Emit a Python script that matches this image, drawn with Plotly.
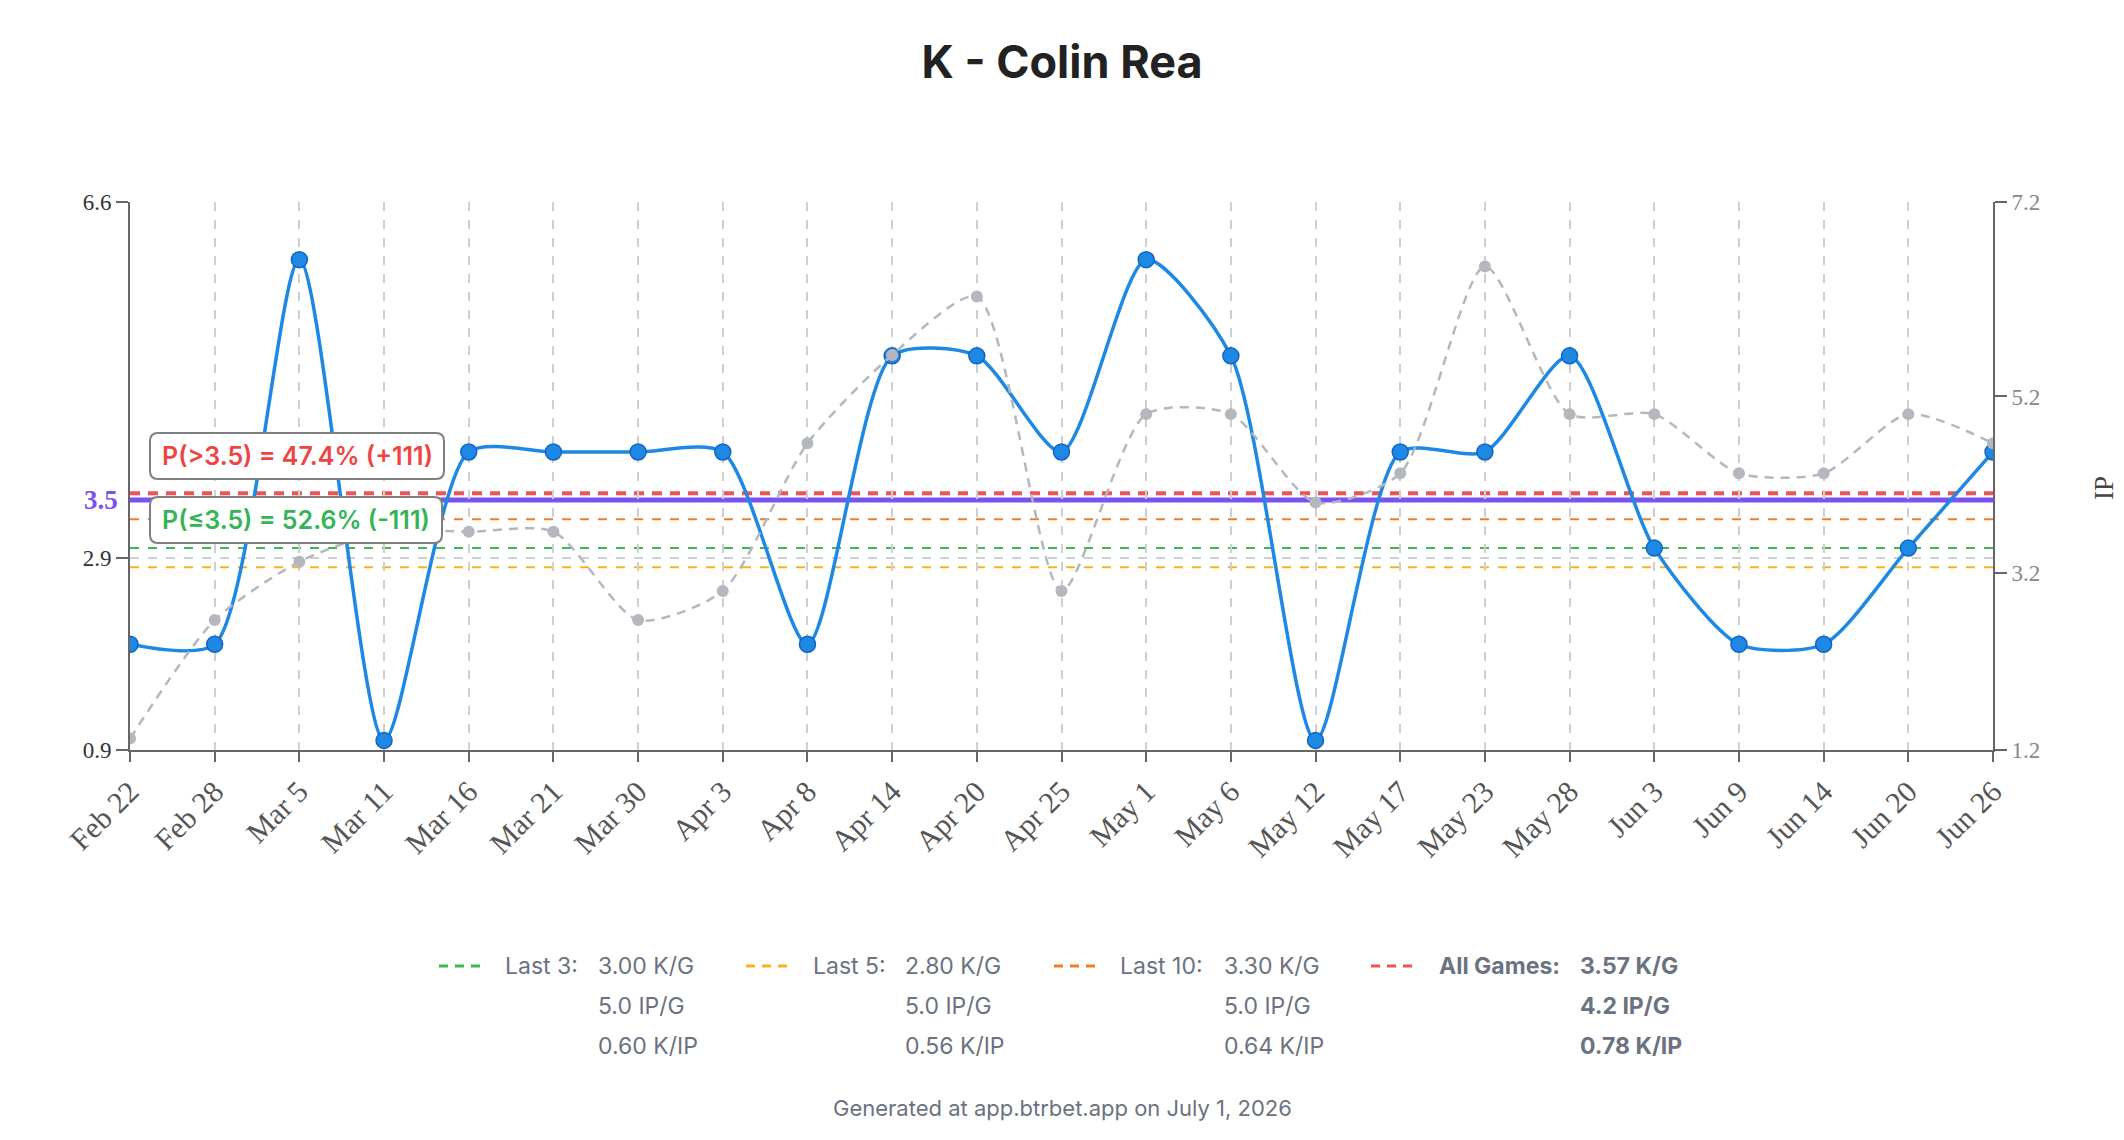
import plotly.graph_objects as go

# ---------------- data ----------------
dates = ["Feb 22", "Feb 28", "Mar 5", "Mar 11", "Mar 16", "Mar 21", "Mar 30", "Apr 3",
         "Apr 8", "Apr 14", "Apr 20", "Apr 25", "May 1", "May 6", "May 12", "May 17",
         "May 23", "May 28", "Jun 3", "Jun 9", "Jun 14", "Jun 20", "Jun 26"]
strikeouts = [2, 2, 6, 1, 4, 4, 4, 4, 2, 5, 5, 4, 6, 5, 1, 4, 4, 5, 3, 2, 2, 3, 4]
innings = [1.33, 2.67, 3.33, 3.67, 3.67, 3.67, 2.67, 3.0, 4.67, 5.67, 6.33, 3.0,
           5.0, 5.0, 4.0, 4.33, 6.67, 5.0, 5.0, 4.33, 4.33, 5.0, 4.67]

prop_line = 3.5
prob_over_text = "P(>3.5) = 47.4% (+111)"
prob_under_text = "P(≤3.5) = 52.6% (-111)"

avg_labels = ["Last 3:", "Last 5:", "Last 10:", "All Games:"]
avg_k = [3.00, 2.80, 3.30, 3.57]
avg_ip = [5.0, 5.0, 5.0, 4.2]
avg_kip = [0.60, 0.56, 0.64, 0.78]
avg_colors = ["#3cb94f", "#f9b21b", "#f47d22", "#f05252"]

k_ticks = [0.9, 2.9, 6.6]
ip_ticks = [1.2, 3.2, 5.2, 7.4]
ip_ticktext = ["1.2", "3.2", "5.2", "7.2"]

# ---------------- layout helpers ----------------
W, H = 2124, 1140
ML, MR, MT, MB = 130, 131, 202, 390
PW, PH = W - ML - MR, H - MT - MB


def px_x(px):
    return (px - ML) / PW


def px_y(py):
    return (H - MB - py) / PH


def rrect(x0, y0, x1, y1, r):
    pts = [
        ("M", [(x0 + r, y0)]), ("L", [(x1 - r, y0)]), ("Q", [(x1, y0), (x1, y0 + r)]),
        ("L", [(x1, y1 - r)]), ("Q", [(x1, y1), (x1 - r, y1)]), ("L", [(x0 + r, y1)]),
        ("Q", [(x0, y1), (x0, y1 - r)]), ("L", [(x0, y0 + r)]), ("Q", [(x0, y0), (x0 + r, y0)]),
    ]
    s = ""
    for cmd, ps in pts:
        s += cmd + " " + " ".join(f"{px_x(a):.5f},{px_y(b):.5f}" for a, b in ps) + " "
    return s + "Z"


SERIF = "Liberation Serif, Times New Roman, serif"
SANS = "Inter, Roboto, sans-serif"
GRAY_TXT = "#6b7280"

fig = go.Figure()

fig.add_trace(go.Scatter(
    x=dates, y=strikeouts, mode="lines+markers", yaxis="y",
    line=dict(color="#1e88e5", width=3.5, shape="spline", smoothing=0.7),
    marker=dict(size=16, color="#1e88e5", line=dict(color="#1565c0", width=1.5)),
    showlegend=False, hoverinfo="x+y",
))
fig.add_trace(go.Scatter(
    x=dates, y=innings, mode="lines+markers", yaxis="y2",
    line=dict(color="#b4b8be", width=2.5, dash="9px,7px", shape="spline", smoothing=0.7),
    marker=dict(size=12, color="#b4b8be"),
    showlegend=False, hoverinfo="x+y",
))

shapes = []
# average lines
for val, col, w, dash in [(avg_k[0], avg_colors[0], 2, "9px,9px"),
                          (avg_k[1], avg_colors[1], 2, "9px,9px"),
                          (avg_k[2], avg_colors[2], 2, "9px,9px"),
                          (avg_k[3], avg_colors[3], 4, "10px,8px")]:
    shapes.append(dict(type="line", xref="paper", yref="y", x0=0, x1=1, y0=val, y1=val,
                       line=dict(color=col, width=w, dash=dash), layer="below"))
# prop line
shapes.append(dict(type="line", xref="paper", yref="y", x0=0, x1=1, y0=prop_line, y1=prop_line,
                   line=dict(color="#7b52f0", width=5), layer="below"))

# probability boxes
shapes.append(dict(type="path", xref="paper", yref="paper", path=rrect(150, 433, 444, 479, 8),
                   fillcolor="white", line=dict(color="#808080", width=2), layer="above"))
shapes.append(dict(type="path", xref="paper", yref="paper", path=rrect(150, 497, 442, 543, 8),
                   fillcolor="white", line=dict(color="#808080", width=2), layer="above"))

annotations = [
    dict(text=prob_over_text, xref="paper", yref="paper", x=px_x(297), y=px_y(456),
         showarrow=False, xanchor="center", yanchor="middle",
         font=dict(family=SANS, size=25, color="#ef4444", weight=600)),
    dict(text=prob_under_text, xref="paper", yref="paper", x=px_x(296), y=px_y(520),
         showarrow=False, xanchor="center", yanchor="middle",
         font=dict(family=SANS, size=25, color="#34b457", weight=600)),
    dict(text=f"{prop_line}", xref="paper", yref="y", x=px_x(120), y=prop_line,
         showarrow=False, xanchor="right", yanchor="middle",
         font=dict(family=SERIF, size=27, color="#7b52f0", weight="bold")),
    dict(text="IP", xref="paper", yref="paper", x=px_x(2104), y=px_y(488),
         showarrow=False, xanchor="center", yanchor="middle", textangle=-90,
         font=dict(family=SERIF, size=27, color="#444444")),
    dict(text="Generated at app.btrbet.app on July 1, 2026", xref="paper", yref="paper",
         x=px_x(1062), y=px_y(1108), showarrow=False, xanchor="center", yanchor="middle",
         font=dict(family=SANS, size=22, color=GRAY_TXT)),
]

marker_x = [439, 746, 1054, 1371]
label_x = [503, 811, 1118, 1437]
value_x = [596, 903, 1222, 1578]
row_y = [966, 1006, 1046]
for i in range(4):
    weight = "bold" if i == 3 else "normal"
    shapes.append(dict(type="line", xref="paper", yref="paper",
                       x0=px_x(marker_x[i]), x1=px_x(marker_x[i] + 41),
                       y0=px_y(row_y[0]), y1=px_y(row_y[0]),
                       line=dict(color=avg_colors[i], width=3, dash="9px,7px")))
    annotations.append(dict(text=avg_labels[i], xref="paper", yref="paper",
                            x=px_x(label_x[i]), y=px_y(row_y[0]), showarrow=False,
                            xanchor="left", yanchor="middle",
                            font=dict(family=SANS, size=23, color=GRAY_TXT, weight=weight)))
    vals = [f"{avg_k[i]:.2f} K/G", f"{avg_ip[i]:.1f} IP/G", f"{avg_kip[i]:.2f} K/IP"]
    for r, t in enumerate(vals):
        annotations.append(dict(text=t, xref="paper", yref="paper",
                                x=px_x(value_x[i]), y=px_y(row_y[r]), showarrow=False,
                                xanchor="left", yanchor="middle",
                                font=dict(family=SANS, size=23, color=GRAY_TXT, weight=weight)))

fig.update_layout(
    width=W, height=H,
    margin=dict(l=ML, r=MR, t=MT, b=MB, pad=0),
    paper_bgcolor="white", plot_bgcolor="white",
    title=dict(text="K - Colin Rea", x=0.5, xanchor="center", y=1 - 62 / H, yanchor="middle",
               font=dict(family=SANS, size=45, color="#222222", weight="bold")),
    xaxis=dict(type="category", range=[0, len(dates) - 1], showgrid=True, gridcolor="#cfcfcf",
               griddash="dash", gridwidth=1.5, showline=True, linecolor="#666666", linewidth=2,
               ticks="outside", ticklen=10, tickwidth=2, tickcolor="#666666", tickangle=-45,
               tickfont=dict(family=SERIF, size=30, color="#555555"), zeroline=False,
               fixedrange=True),
    yaxis=dict(range=[k_ticks[0], k_ticks[-1]], tickvals=k_ticks,
               ticktext=[f"{v:.1f}" for v in k_ticks], showgrid=True, gridcolor="#cfcfcf",
               griddash="dash", gridwidth=1.5, showline=True, linecolor="#666666", linewidth=2,
               ticks="outside", ticklen=12, tickwidth=2, tickcolor="#666666",
               tickfont=dict(family=SERIF, size=23, color="#333333"), zeroline=False),
    yaxis2=dict(range=[ip_ticks[0], ip_ticks[-1]], tickvals=ip_ticks, ticktext=ip_ticktext,
                overlaying="y", side="right", showgrid=False, showline=True,
                linecolor="#666666", linewidth=2, ticks="outside", ticklen=12, tickwidth=2,
                tickcolor="#666666", tickfont=dict(family=SERIF, size=23, color="#888888"),
                zeroline=False),
    shapes=shapes,
    annotations=annotations,
    showlegend=False,
)

fig.write_html("out.html")
